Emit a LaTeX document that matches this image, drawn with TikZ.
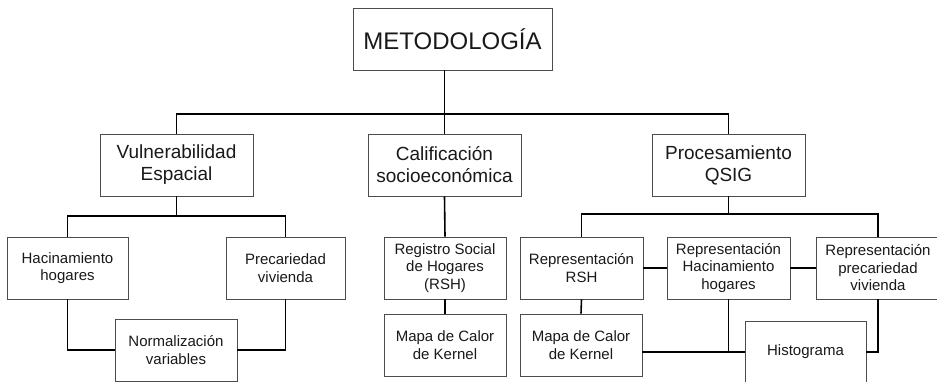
\documentclass[tikz,border=0pt]{standalone}
\usepackage{fontspec}
\setmainfont{Liberation Sans}
\begin{document}
\begin{tikzpicture}[x=1pt,y=-1pt,
  box/.style={draw=black!70, line width=0.9pt, fill=white, rectangle, inner sep=0pt,
    align=center, text=black!90, font=\fontsize{15}{17.5}\selectfont,
    minimum height=62pt},
  bigbox/.style={box, font=\fontsize{19}{22}\selectfont, minimum width=153pt},
  conn/.style={draw=black, line width=1.6pt}]
\useasboundingbox (0,0) rectangle (937,382);
\clip (0,0) rectangle (937,382);
\fill[white] (0,0) rectangle (937,382);
\coordinate (busA) at (0,114);
\coordinate (busL) at (0,216);
\coordinate (busR) at (0,214);
% nodes
\node[box, minimum width=199pt, minimum height=62pt, font=\fontsize{24}{28}\selectfont] (top) at (452.5,39) {METODOLOGÍA};
\node[bigbox] (vul) at (176.5,165) {Vulnerabilidad\\Espacial};
\node[bigbox] (cal) at (444.5,165) {Calificación\\socioeconómica};
\node[bigbox] (proc) at (728.5,165) {Procesamiento\\QSIG};
\node[box, minimum width=121pt] (hac) at (67.5,268) {Hacinamiento\\hogares};
\node[box, minimum width=119pt] (prec) at (285.5,268) {Precariedad\\vivienda};
\node[box, minimum width=122pt] (norm) at (176,350) {Normalización\\variables};
\node[box, minimum width=122pt] (reg) at (445,268) {Registro Social\\de Hogares\\(RSH)};
\node[box, minimum width=122pt] (map1) at (445,345) {Mapa de Calor\\de Kernel};
\node[box, minimum width=123pt] (rsh) at (581.5,268) {Representación\\RSH};
\node[box, minimum width=123pt] (rhac) at (728.5,268) {Representación\\Hacinamiento\\hogares};
\node[box, minimum width=124pt] (rprec) at (878,268) {Representación\\precariedad\\vivienda};
\node[box, minimum width=122pt] (map2) at (581,345) {Mapa de Calor\\de Kernel};
\node[box, minimum width=121pt] (hist) at (805.5,352) {Histograma};
% connectors
\draw[conn] (top.south -| cal.north) -- (cal.north);
\draw[conn] (vul.north) -- (vul.north |- busA) -- (proc.north |- busA) -- (proc.north);
\draw[conn] (vul.south) -- (vul.south |- busL);
\draw[conn] (hac.north) -- (hac.north |- busL) -- (prec.north |- busL) -- (prec.north);
\draw[conn] (hac.south) |- (norm.west);
\draw[conn] (prec.south) |- (norm.east);
\draw[conn] (cal.south) -- (reg.north);
\draw[conn] (reg.south) -- (map1.north);
\draw[conn] (proc.south) -- (proc.south |- busR);
\draw[conn] (rsh.north) -- (rsh.north |- busR) -- (rprec.north |- busR) -- (rprec.north);
\draw[conn] (rsh.east) -- (rhac.west);
\draw[conn] (rhac.east) -- (rprec.west);
\draw[conn] (rsh.south) -- (map2.north);
\draw[conn] (map2.east |- hist.west) -- (hist.west);
\draw[conn] (rhac.south) -- (rhac.south |- hist.west);
\draw[conn] (rprec.south) |- (hist.east);
\end{tikzpicture}
\end{document}
